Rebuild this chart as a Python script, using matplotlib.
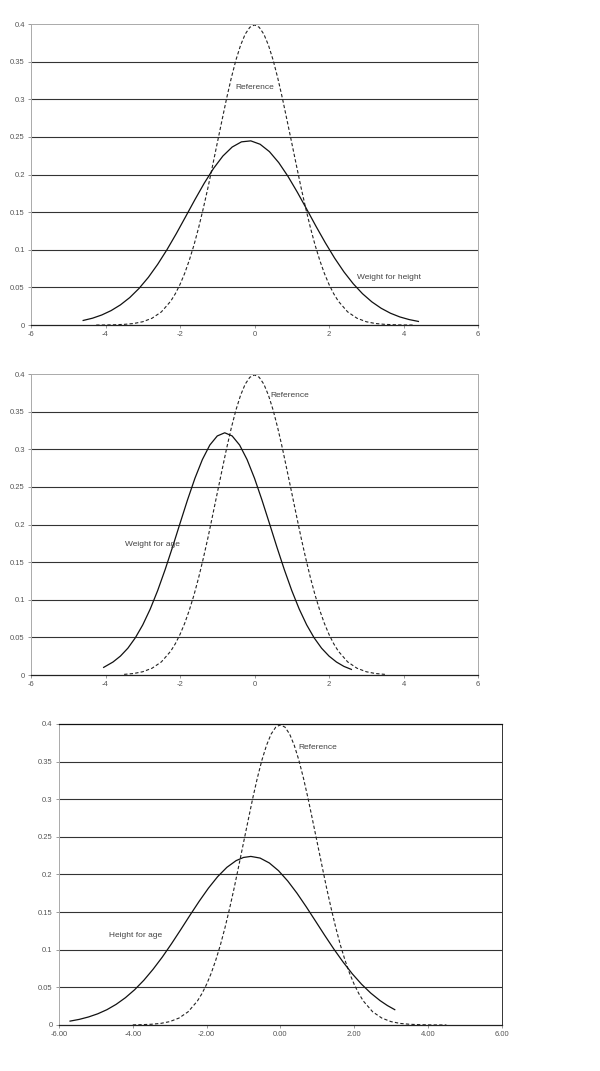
import matplotlib.pyplot as plt
import numpy as np

plt.rcParams['font.family'] = ['Liberation Sans', 'DejaVu Sans']

# reference curve (standard normal)
ref_x = [-4.5, -4.25, -4.0, -3.75, -3.5, -3.25, -3.0, -2.75, -2.5, -2.25, -2.125, -2.0,
         -1.875, -1.75, -1.625, -1.5, -1.375, -1.25, -1.125, -1.0, -0.875, -0.75, -0.625,
         -0.5, -0.375, -0.25, -0.125, 0.0, 0.125, 0.25, 0.375, 0.5, 0.625, 0.75, 0.875,
         1.0, 1.125, 1.25, 1.375, 1.5, 1.625, 1.75, 1.875, 2.0, 2.125, 2.25, 2.5, 2.75,
         3.0, 3.25, 3.5, 3.75, 4.0, 4.25, 4.5]
ref_y = [0.0000, 0.0000, 0.0001, 0.0004, 0.0009, 0.0020, 0.0044, 0.0091, 0.0175, 0.0317,
         0.0417, 0.0540, 0.0687, 0.0863, 0.1064, 0.1295, 0.1551, 0.1826, 0.2121, 0.2420,
         0.2717, 0.3011, 0.3281, 0.3521, 0.3718, 0.3867, 0.3958, 0.3989, 0.3958, 0.3867,
         0.3718, 0.3521, 0.3281, 0.3011, 0.2717, 0.2420, 0.2121, 0.1826, 0.1551, 0.1295,
         0.1064, 0.0863, 0.0687, 0.0540, 0.0417, 0.0317, 0.0175, 0.0091, 0.0044, 0.0020,
         0.0009, 0.0004, 0.0001, 0.0000, 0.0000]

# weight for height
wfh_x = [-4.6, -4.35, -4.1, -3.85, -3.6, -3.35, -3.1, -2.85, -2.6, -2.35, -2.1, -1.85,
         -1.6, -1.35, -1.1, -0.85, -0.6, -0.35, -0.1, 0.15, 0.4, 0.65, 0.9, 1.15, 1.4,
         1.65, 1.9, 2.15, 2.4, 2.65, 2.9, 3.15, 3.4, 3.65, 3.9, 4.15, 4.4]
wfh_y = [0.0061, 0.0091, 0.0134, 0.0192, 0.0268, 0.0365, 0.0487, 0.0634, 0.0807, 0.1002,
         0.1215, 0.1440, 0.1667, 0.1885, 0.2082, 0.2246, 0.2366, 0.2435, 0.2448, 0.2403,
         0.2305, 0.2159, 0.1975, 0.1765, 0.1541, 0.1313, 0.1094, 0.0890, 0.0707, 0.0549,
         0.0416, 0.0308, 0.0223, 0.0157, 0.0108, 0.0073, 0.0048]

# weight for age
wfa_x = [-4.05, -3.8, -3.6, -3.4, -3.2, -3.0, -2.8, -2.6, -2.4, -2.2, -2.0, -1.8, -1.6,
         -1.4, -1.2, -1.0, -0.8, -0.6, -0.4, -0.2, 0.0, 0.2, 0.4, 0.6, 0.8, 1.0, 1.2,
         1.4, 1.6, 1.8, 2.0, 2.2, 2.4, 2.6]
wfa_y = [0.0102, 0.0173, 0.0252, 0.0357, 0.0495, 0.0667, 0.0877, 0.1123, 0.1401, 0.1702,
         0.2016, 0.2326, 0.2615, 0.2864, 0.3057, 0.3178, 0.3220, 0.3178, 0.3057, 0.2864,
         0.2615, 0.2326, 0.2016, 0.1702, 0.1401, 0.1123, 0.0877, 0.0667, 0.0495, 0.0357,
         0.0252, 0.0173, 0.0115, 0.0075]

# height for age
hfa_x = [-5.7, -5.45, -5.2, -4.95, -4.7, -4.45, -4.2, -3.95, -3.7, -3.45, -3.2, -2.95,
         -2.7, -2.45, -2.2, -1.95, -1.7, -1.45, -1.2, -1.0, -0.8, -0.55, -0.3, -0.05,
         0.2, 0.45, 0.7, 0.95, 1.2, 1.45, 1.7, 1.95, 2.2, 2.45, 2.7, 2.9, 3.1]
hfa_y = [0.0051, 0.0074, 0.0106, 0.0148, 0.0203, 0.0274, 0.0362, 0.0468, 0.0594, 0.0740,
         0.0902, 0.1080, 0.1267, 0.1458, 0.1644, 0.1818, 0.1971, 0.2095, 0.2184, 0.2226,
         0.2240, 0.2218, 0.2153, 0.2050, 0.1913, 0.1751, 0.1571, 0.1382, 0.1192, 0.1008,
         0.0836, 0.0679, 0.0541, 0.0423, 0.0324, 0.0258, 0.0203]

yticks = [0, 0.05, 0.1, 0.15, 0.2, 0.25, 0.3, 0.35, 0.4]
ytick_labels = ['0', '0.05', '0.1', '0.15', '0.2', '0.25', '0.3', '0.35', '0.4']
xticks = [-6, -4, -2, 0, 2, 4, 6]
xlabels_int = ['-6', '-4', '-2', '0', '2', '4', '6']
xlabels_dec = ['-6.00', '-4.00', '-2.00', '0.00', '2.00', '4.00', '6.00']

panels = [
    # rect, ref range, curve, label, label pos, ref label pos, xlabels
    ([0.0517, 0.6965, 0.745, 0.281], (-4.3, 4.3), wfh_x, wfh_y,
     'Weight for height', (3.6, 0.063), (0.0, 0.316), xlabels_int),
    ([0.0517, 0.3697, 0.745, 0.281], (-3.6, 3.6), wfa_x, wfa_y,
     'Weight for age', (-2.74, 0.173), (0.95, 0.372), xlabels_int),
    ([0.0983, 0.0430, 0.738, 0.281], (-4.0, 4.5), hfa_x, hfa_y,
     'Height for age', (-3.92, 0.119), (1.02, 0.369), xlabels_dec),
]

fig = plt.figure(figsize=(6, 10.71), dpi=100)
rx = np.array(ref_x)
ry = np.array(ref_y)
for i, (rect, rr, cx, cy, lab, lpos, rpos, xl) in enumerate(panels):
    ax = fig.add_axes(rect)
    m = (rx >= rr[0] - 1e-9) & (rx <= rr[1] + 1e-9)
    ax.plot(rx[m], ry[m], color='#222222', lw=0.8, ls=(0, (3, 2)))
    ax.plot(cx, cy, color='#111111', lw=0.9)
    ax.set_xlim(-6, 6)
    ax.set_ylim(0, 0.4)
    ax.set_yticks(yticks)
    ax.set_yticklabels(ytick_labels)
    ax.set_xticks(xticks)
    ax.set_xticklabels(xl)
    for y in yticks[1:-1]:
        ax.axhline(y, color='#333333', lw=0.8, zorder=0)
    ax.tick_params(axis='both', labelsize=5.5, labelcolor='#555555', color='#888888',
                   length=2.5, width=0.6, direction='out', pad=2)
    for s in ['left', 'right', 'top']:
        ax.spines[s].set_color('#aaaaaa')
        ax.spines[s].set_linewidth(0.7)
    ax.spines['bottom'].set_color('#222222')
    ax.spines['bottom'].set_linewidth(0.9)
    if i == 2:
        ax.spines['top'].set_color('#111111')
        ax.spines['right'].set_color('#333333')
        ax.spines['top'].set_linewidth(0.9)
    ax.text(lpos[0], lpos[1], lab, fontsize=6, color='#444444', ha='center', va='center')
    ax.text(rpos[0], rpos[1], 'Reference', fontsize=6, color='#444444', ha='center', va='center')

fig.savefig('out.png', dpi=100)
